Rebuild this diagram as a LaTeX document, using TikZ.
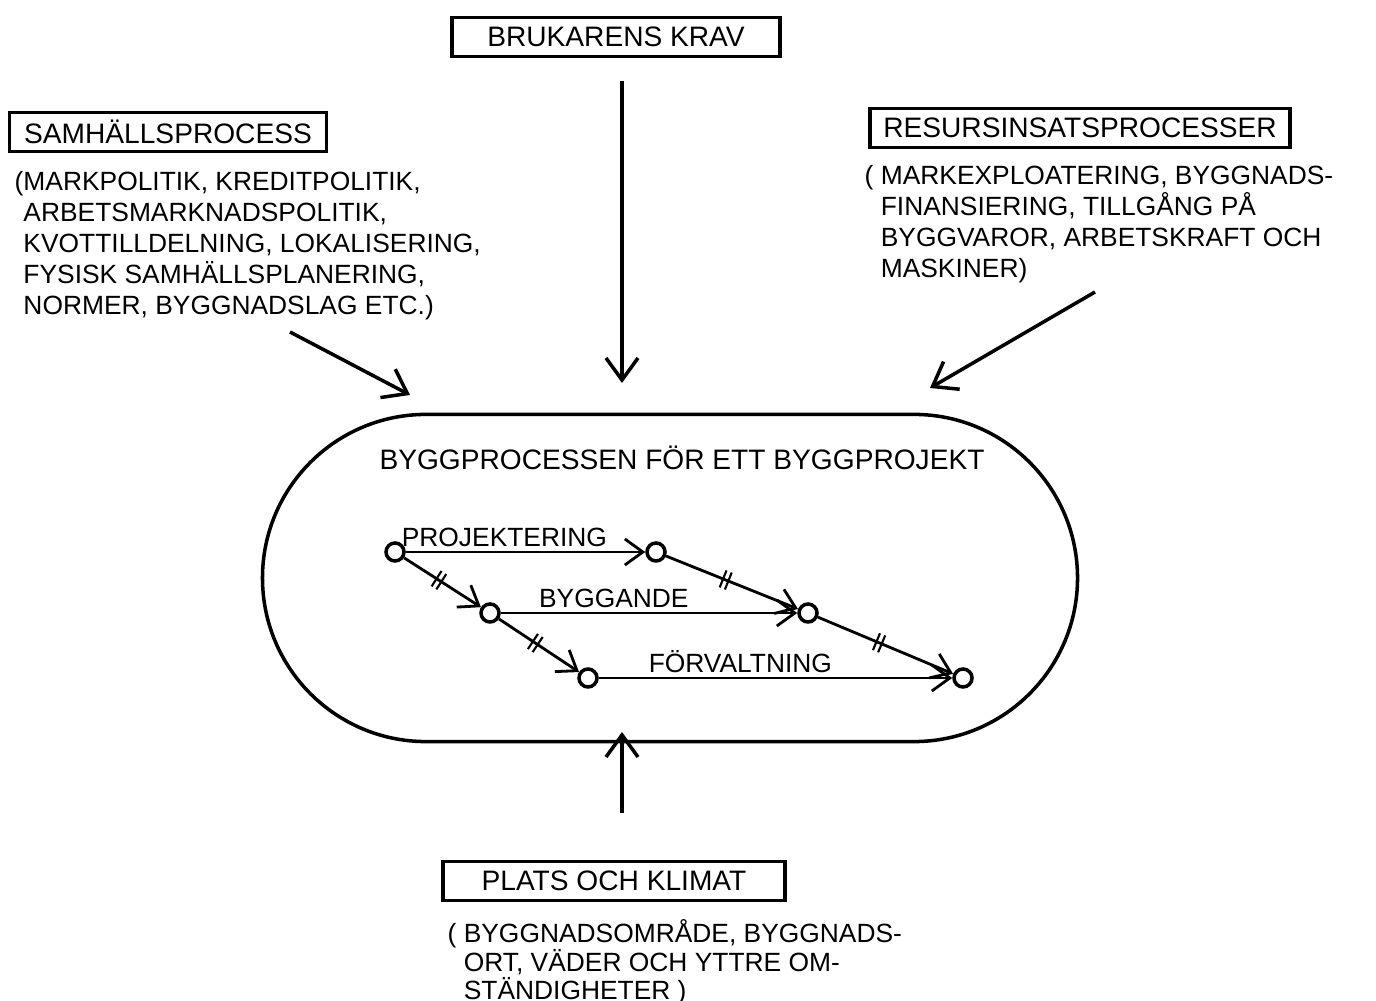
\documentclass[tikz,border=0pt]{standalone}
\usepackage{fontspec}
\setmainfont{Liberation Sans}
\usetikzlibrary{arrows.meta,shapes.misc,decorations.markings}

\tikzset{
  flow/.style={line width=1pt, -{Straight Barb[length=2.2mm, width=3.2mm, line width=1pt]}},
  titlebox/.style={draw, line width=1pt, inner sep=0pt, minimum height=0.39cm, font=\fontsize{8}{10}\selectfont},
  infotext/.style={anchor=north west, align=left, inner sep=0pt, font=\fontsize{7.5}{8.8}\selectfont},
  event/.style={circle, draw, line width=1pt, inner sep=0pt, minimum size=0.18cm},
  activity/.style={line width=0.8pt, -{Straight Barb[length=1.8mm, width=2.6mm, line width=0.8pt]}},
  link/.style={activity, postaction={decorate}, decoration={markings, mark=at position 0.45 with {
      \draw[-, line width=0.6pt] (-0.7pt,-2.6pt) -- (-0.7pt,2.6pt);
      \draw[-, line width=0.6pt] (0.9pt,-2.6pt) -- (0.9pt,2.6pt);}}},
  actlabel/.style={above, inner sep=1pt, font=\fontsize{7.5}{9}\selectfont}
}

\begin{document}
\begin{tikzpicture}[x=0.01cm, y=-0.01cm]
    \useasboundingbox (0,0) rectangle (1376,1001);

    % Users' demands (top)
    \node[titlebox, minimum width=3.28cm] (krav) at (616,37) {BRUKARENS KRAV};

    % Societal process (top left)
    \node[titlebox, minimum width=3.17cm] (samh) at (168,132) {SAMHÄLLSPROCESS};
    \node[infotext] (samhtext) at (14,171) {(MARKPOLITIK, KREDITPOLITIK,\\
        \phantom{(}ARBETSMARKNADSPOLITIK,\\
        \phantom{(}KVOTTILLDELNING, LOKALISERING,\\
        \phantom{(}FYSISK SAMHÄLLSPLANERING,\\
        \phantom{(}NORMER, BYGGNADSLAG ETC.)};

    % Resource processes (top right)
    \node[titlebox, minimum width=4.2cm] (resurs) at (1080,128) {RESURSINSATSPROCESSER};
    \node[infotext] (resurstext) at (864,165) {( MARKEXPLOATERING, BYGGNADS-\\
        \phantom{( }FINANSIERING, TILLGÅNG PÅ\\
        \phantom{( }BYGGVAROR, ARBETSKRAFT OCH\\
        \phantom{( }MASKINER)};

    % Site and climate (bottom)
    \node[titlebox, minimum width=3.42cm] (plats) at (614,881) {PLATS OCH KLIMAT};
    \node[infotext, font=\fontsize{7.5}{8.1}\selectfont] (platstext) at (447,919) {( BYGGNADSOMRÅDE, BYGGNADS-\\
        \phantom{( }ORT, VÄDER OCH YTTRE OM-\\
        \phantom{( }STÄNDIGHETER )};

    % The building process
    \node[rounded rectangle, draw, line width=1pt, minimum width=8.38cm, minimum height=3.27cm] (proc) at (670,578) {};
    \node[font=\fontsize{8}{10}\selectfont] (proctitle) at (682,458) {BYGGPROCESSEN FÖR ETT BYGGPROJEKT};

    % Events
    \node[event] (projS) at (395,552) {};
    \node[event] (projE) at (656,552) {};
    \node[event] (byggS) at (490,613) {};
    \node[event] (byggE) at (808,613) {};
    \node[event] (forvS) at (588,678) {};
    \node[event] (forvE) at (963,678) {};

    % Activities
    \draw[activity] (projS) -- node[actlabel, xshift=-6pt] {PROJEKTERING} (projE);
    \draw[activity] (byggS) -- node[actlabel, xshift=-10pt] {BYGGANDE} (byggE);
    \draw[activity] (forvS) -- node[actlabel, xshift=-10pt] {FÖRVALTNING} (forvE);
    \draw[link] (projS) -- (byggS);
    \draw[link] (byggS) -- (forvS);
    \draw[link] (projE) -- (byggE);
    \draw[link] (byggE) -- (forvE);

    % Influences on the process
    \coordinate (kravtip) at (622,383);
    \coordinate (samhtail) at (290,332);
    \coordinate (samhtip) at (410,395);
    \coordinate (resurstail) at (1095,292);
    \coordinate (resurstip) at (930,388);
    \coordinate (platstip) at (622,732);
    \draw[flow, shorten <=0.23cm] (krav.south -| kravtip) -- (kravtip);
    \draw[flow] (samhtail) -- (samhtip);
    \draw[flow] (resurstail) -- (resurstip);
    \draw[flow, shorten <=0.47cm] (plats.north -| platstip) -- (platstip);
\end{tikzpicture}
\end{document}
